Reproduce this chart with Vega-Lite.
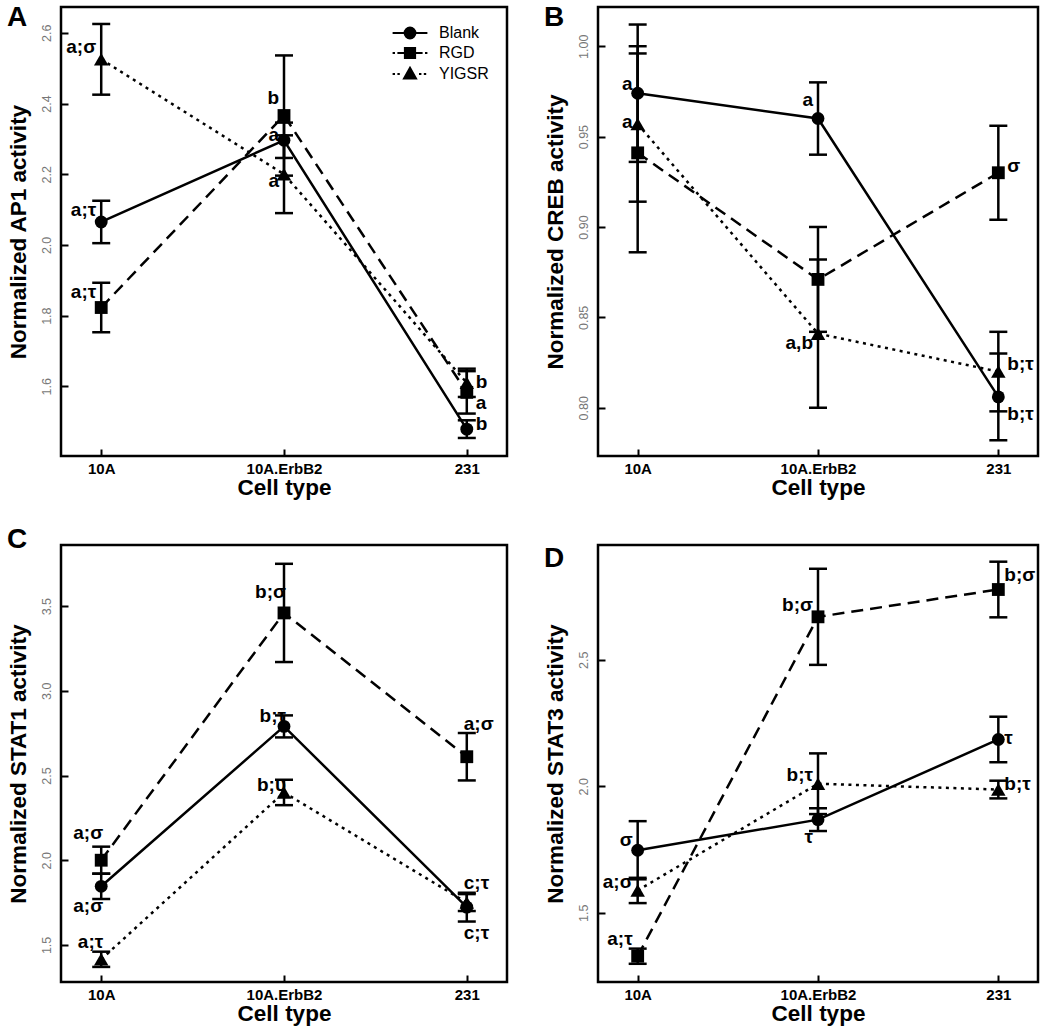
{
  "$schema": "https://vega.github.io/schema/vega-lite/v6.json",
  "background": "white",
  "padding": {"left": 5, "top": 2, "right": 5, "bottom": 0},
  "config": {
    "font": "Liberation Sans",
    "view": {"stroke": "black", "strokeWidth": 2.5},
    "axis": {"grid": false, "domain": false, "tickColor": "black", "tickWidth": 2, "tickSize": -7, "titleFontWeight": "bold", "titleFontSize": 22.5, "titleColor": "black"},
    "axisX": {"labelFontWeight": "bold", "labelFontSize": 15, "labelColor": "black", "labelAngle": 0, "labelPadding": 12, "titlePadding": 0},
    "axisY": {"labelAngle": -90, "labelColor": "#777", "labelFontSize": 12.5, "labelPadding": 15, "titlePadding": 10},
    "line": {"color": "black", "strokeWidth": 2.5},
    "point": {"filled": true, "color": "black", "opacity": 1},
    "text": {"baseline": "middle", "fontSize": 19, "fontWeight": "bold", "color": "black"}
  },
  "datasets": {
    "pts": [
      {"panel": "A", "cell": "10A", "series": "Blank", "v": 2.065, "e": 0.06},
      {"panel": "A", "cell": "10A.ErbB2", "series": "Blank", "v": 2.296, "e": 0.05},
      {"panel": "A", "cell": "231", "series": "Blank", "v": 1.479, "e": 0.025},
      {"panel": "A", "cell": "10A", "series": "RGD", "v": 1.823, "e": 0.07},
      {"panel": "A", "cell": "10A.ErbB2", "series": "RGD", "v": 2.366, "e": 0.17},
      {"panel": "A", "cell": "231", "series": "RGD", "v": 1.583, "e": 0.06},
      {"panel": "A", "cell": "10A", "series": "YIGSR", "v": 2.525, "e": 0.1},
      {"panel": "A", "cell": "10A.ErbB2", "series": "YIGSR", "v": 2.2, "e": 0.11},
      {"panel": "A", "cell": "231", "series": "YIGSR", "v": 1.61, "e": 0.04},
      {"panel": "B", "cell": "10A", "series": "Blank", "v": 0.974, "e": 0.038},
      {"panel": "B", "cell": "10A.ErbB2", "series": "Blank", "v": 0.96, "e": 0.02},
      {"panel": "B", "cell": "231", "series": "Blank", "v": 0.806, "e": 0.024},
      {"panel": "B", "cell": "10A", "series": "RGD", "v": 0.941, "e": 0.055},
      {"panel": "B", "cell": "10A.ErbB2", "series": "RGD", "v": 0.871, "e": 0.029},
      {"panel": "B", "cell": "231", "series": "RGD", "v": 0.93, "e": 0.026},
      {"panel": "B", "cell": "10A", "series": "YIGSR", "v": 0.957, "e": 0.043},
      {"panel": "B", "cell": "10A.ErbB2", "series": "YIGSR", "v": 0.841, "e": 0.041},
      {"panel": "B", "cell": "231", "series": "YIGSR", "v": 0.82, "e": 0.022},
      {"panel": "C", "cell": "10A", "series": "Blank", "v": 1.846, "e": 0.075},
      {"panel": "C", "cell": "10A.ErbB2", "series": "Blank", "v": 2.79, "e": 0.065},
      {"panel": "C", "cell": "231", "series": "Blank", "v": 1.723, "e": 0.085},
      {"panel": "C", "cell": "10A", "series": "RGD", "v": 2.0, "e": 0.08},
      {"panel": "C", "cell": "10A.ErbB2", "series": "RGD", "v": 3.46, "e": 0.29},
      {"panel": "C", "cell": "231", "series": "RGD", "v": 2.611, "e": 0.14},
      {"panel": "C", "cell": "10A", "series": "YIGSR", "v": 1.415, "e": 0.045},
      {"panel": "C", "cell": "10A.ErbB2", "series": "YIGSR", "v": 2.4, "e": 0.075},
      {"panel": "C", "cell": "231", "series": "YIGSR", "v": 1.75, "e": 0.05},
      {"panel": "D", "cell": "10A", "series": "Blank", "v": 1.747, "e": 0.115},
      {"panel": "D", "cell": "10A.ErbB2", "series": "Blank", "v": 1.868, "e": 0.045},
      {"panel": "D", "cell": "231", "series": "Blank", "v": 2.185, "e": 0.09},
      {"panel": "D", "cell": "10A", "series": "RGD", "v": 1.328, "e": 0.03},
      {"panel": "D", "cell": "10A.ErbB2", "series": "RGD", "v": 2.67, "e": 0.19},
      {"panel": "D", "cell": "231", "series": "RGD", "v": 2.778, "e": 0.11},
      {"panel": "D", "cell": "10A", "series": "YIGSR", "v": 1.588, "e": 0.05},
      {"panel": "D", "cell": "10A.ErbB2", "series": "YIGSR", "v": 2.01, "e": 0.12},
      {"panel": "D", "cell": "231", "series": "YIGSR", "v": 1.987, "e": 0.035}
    ],
    "labels": [
      {"panel": "A", "cell": "10A", "ly": 2.56, "t": "a;σ", "side": "L"},
      {"panel": "A", "cell": "10A", "ly": 2.1, "t": "a;τ", "side": "L"},
      {"panel": "A", "cell": "10A", "ly": 1.868, "t": "a;τ", "side": "L"},
      {"panel": "A", "cell": "10A.ErbB2", "ly": 2.417, "t": "b", "side": "L"},
      {"panel": "A", "cell": "10A.ErbB2", "ly": 2.31, "t": "a", "side": "L"},
      {"panel": "A", "cell": "10A.ErbB2", "ly": 2.18, "t": "a", "side": "L"},
      {"panel": "A", "cell": "231", "ly": 1.612, "t": "b", "side": "R"},
      {"panel": "A", "cell": "231", "ly": 1.554, "t": "a", "side": "R"},
      {"panel": "A", "cell": "231", "ly": 1.494, "t": "b", "side": "R"},
      {"panel": "B", "cell": "10A", "ly": 0.979, "t": "a", "side": "L"},
      {"panel": "B", "cell": "10A", "ly": 0.958, "t": "a", "side": "L"},
      {"panel": "B", "cell": "10A.ErbB2", "ly": 0.97, "t": "a", "side": "L"},
      {"panel": "B", "cell": "10A.ErbB2", "ly": 0.836, "t": "a,b", "side": "L"},
      {"panel": "B", "cell": "231", "ly": 0.934, "t": "σ", "side": "R"},
      {"panel": "B", "cell": "231", "ly": 0.8244, "t": "b;τ", "side": "R"},
      {"panel": "B", "cell": "231", "ly": 0.7967, "t": "b;τ", "side": "R"},
      {"panel": "C", "cell": "10A", "ly": 2.162, "t": "a;σ", "side": "L"},
      {"panel": "C", "cell": "10A", "ly": 1.727, "t": "a;σ", "side": "L"},
      {"panel": "C", "cell": "10A", "ly": 1.52, "t": "a;τ", "side": "L"},
      {"panel": "C", "cell": "10A.ErbB2", "ly": 3.581, "t": "b;σ", "side": "L"},
      {"panel": "C", "cell": "10A.ErbB2", "ly": 2.854, "t": "b;τ", "side": "L"},
      {"panel": "C", "cell": "10A.ErbB2", "ly": 2.443, "t": "b;υ", "side": "L"},
      {"panel": "C", "cell": "231", "ly": 2.804, "t": "a;σ", "side": "N"},
      {"panel": "C", "cell": "231", "ly": 1.866, "t": "c;τ", "side": "N"},
      {"panel": "C", "cell": "231", "ly": 1.569, "t": "c;τ", "side": "N"},
      {"panel": "D", "cell": "10A", "ly": 1.786, "t": "σ", "side": "L"},
      {"panel": "D", "cell": "10A", "ly": 1.621, "t": "a;σ", "side": "L"},
      {"panel": "D", "cell": "10A", "ly": 1.397, "t": "a;τ", "side": "L"},
      {"panel": "D", "cell": "10A.ErbB2", "ly": 2.716, "t": "b;σ", "side": "L"},
      {"panel": "D", "cell": "10A.ErbB2", "ly": 2.044, "t": "b;τ", "side": "L"},
      {"panel": "D", "cell": "10A.ErbB2", "ly": 1.8, "t": "τ", "side": "L"},
      {"panel": "D", "cell": "231", "ly": 2.835, "t": "b;σ", "side": "R"},
      {"panel": "D", "cell": "231", "ly": 2.189, "t": "τ", "side": "R"},
      {"panel": "D", "cell": "231", "ly": 2.01, "t": "b;τ", "side": "R"}
    ]
  },
  "columns": 2,
  "spacing": {"row": 24, "column": 33},
  "resolve": {"scale": {"color": "independent"}, "legend": {"color": "independent"}},
  "concat": [
    {
      "title": {"text": "A", "anchor": "start", "frame": "bounds", "fontSize": 28, "fontWeight": "bold", "color": "black", "offset": 0, "dy": 25},
      "width": 446, "height": 449,
      "encoding": {
        "x": {"field": "cell", "type": "ordinal", "sort": ["10A", "10A.ErbB2", "231"], "scale": {"type": "point", "padding": 0.22}, "axis": {"title": "Cell type"}},
        "y": {"field": "v", "type": "quantitative", "scale": {"domain": [1.403, 2.673], "nice": false, "zero": false}, "axis": {"title": "Normalized AP1 activity", "values": [1.6, 1.8, 2.0, 2.2, 2.4, 2.6], "format": ".1f"}}
      },
      "layer": [
        {"data": {"name": "pts"}, "transform": [{"filter": "datum.panel == 'A'"}], "mark": {"type": "errorbar", "color": "black", "rule": {"color": "black", "opacity": 1, "strokeWidth": 2.5}, "ticks": {"size": 18, "thickness": 2.5, "color": "black", "opacity": 1}}, "encoding": {"yError": {"field": "e"}}},
        {"data": {"name": "pts"}, "transform": [{"filter": "datum.panel == 'A' && datum.series == 'Blank'"}], "mark": {"type": "line"}, "encoding": {}},
        {"data": {"name": "pts"}, "transform": [{"filter": "datum.panel == 'A' && datum.series == 'RGD'"}], "mark": {"type": "line", "strokeDash": [12, 7]}, "encoding": {}},
        {"data": {"name": "pts"}, "transform": [{"filter": "datum.panel == 'A' && datum.series == 'YIGSR'"}], "mark": {"type": "line", "strokeDash": [3, 4.5]}, "encoding": {}},
        {"data": {"name": "pts"}, "transform": [{"filter": "datum.panel == 'A' && datum.series == 'Blank'"}], "mark": {"type": "point", "shape": "circle", "size": 165}, "encoding": {}},
        {"data": {"name": "pts"}, "transform": [{"filter": "datum.panel == 'A' && datum.series == 'RGD'"}], "mark": {"type": "point", "shape": "square", "size": 165}, "encoding": {}},
        {"data": {"name": "pts"}, "transform": [{"filter": "datum.panel == 'A' && datum.series == 'YIGSR'"}], "mark": {"type": "point", "shape": "triangle-up", "size": 210}, "encoding": {}},
        {"data": {"name": "pts"}, "transform": [{"filter": "false"}], "mark": {"type": "point", "size": 144},
         "encoding": {"color": {"field": "series", "type": "nominal", "scale": {"domain": ["Blank", "RGD", "YIGSR"], "range": ["black", "black", "black"]},
           "legend": {"title": null, "orient": "top-right", "offset": 18, "padding": 0, "labelFontSize": 16, "labelColor": "black", "labelOffset": 21, "symbolSize": 144, "rowPadding": 0,
             "encode": {"symbols": {"update": {
               "shape": {"signal": "datum.value === 'Blank' ? 'M-2.9,0H2.9M0.9,0A0.9,0.9,0,1,1,-0.9,0A0.9,0.9,0,1,1,0.9,0Z' : datum.value === 'RGD' ? 'M-2.9,0H-2.5M-2.1,0H-1M1,0H2.1M2.5,0H2.9M-0.85,-0.85H0.85V0.85H-0.85Z' : 'M-2.9,0H-2.5M-2.1,0H-1.7M1.5,0H1.9M2.3,0H2.7M0,-1.05L1,0.75H-1Z'"},
               "fill": {"value": "black"}, "stroke": {"value": "black"}, "strokeWidth": {"value": 2}, "opacity": {"value": 1}}}}}}}},
        {"data": {"name": "labels"}, "transform": [{"filter": "datum.panel == 'A' && datum.side == 'L'"}], "mark": {"type": "text", "align": "right", "dx": -5},
         "encoding": {"y": {"field": "ly", "type": "quantitative", "scale": {"domain": [1.403, 2.673], "nice": false, "zero": false}, "axis": {"title": "Normalized AP1 activity", "values": [1.6, 1.8, 2.0, 2.2, 2.4, 2.6], "format": ".1f"}}, "text": {"field": "t"}}},
        {"data": {"name": "labels"}, "transform": [{"filter": "datum.panel == 'A' && datum.side == 'R'"}], "mark": {"type": "text", "align": "left", "dx": 9},
         "encoding": {"y": {"field": "ly", "type": "quantitative", "scale": {"domain": [1.403, 2.673], "nice": false, "zero": false}, "axis": {"title": "Normalized AP1 activity", "values": [1.6, 1.8, 2.0, 2.2, 2.4, 2.6], "format": ".1f"}}, "text": {"field": "t"}}}
      ]
    },
    {
      "title": {"text": "B", "anchor": "start", "frame": "bounds", "fontSize": 28, "fontWeight": "bold", "color": "black", "offset": 0, "dy": 25},
      "width": 440, "height": 449,
      "encoding": {
        "x": {"field": "cell", "type": "ordinal", "sort": ["10A", "10A.ErbB2", "231"], "scale": {"type": "point", "padding": 0.22}, "axis": {"title": "Cell type"}},
        "y": {"field": "v", "type": "quantitative", "scale": {"domain": [0.7733, 1.0217], "nice": false, "zero": false}, "axis": {"title": "Normalized CREB activity", "values": [0.8, 0.85, 0.9, 0.95, 1.0], "format": ".2f"}}
      },
      "layer": [
        {"data": {"name": "pts"}, "transform": [{"filter": "datum.panel == 'B'"}], "mark": {"type": "errorbar", "color": "black", "rule": {"color": "black", "opacity": 1, "strokeWidth": 2.5}, "ticks": {"size": 18, "thickness": 2.5, "color": "black", "opacity": 1}}, "encoding": {"yError": {"field": "e"}}},
        {"data": {"name": "pts"}, "transform": [{"filter": "datum.panel == 'B' && datum.series == 'Blank'"}], "mark": {"type": "line"}, "encoding": {}},
        {"data": {"name": "pts"}, "transform": [{"filter": "datum.panel == 'B' && datum.series == 'RGD'"}], "mark": {"type": "line", "strokeDash": [12, 7]}, "encoding": {}},
        {"data": {"name": "pts"}, "transform": [{"filter": "datum.panel == 'B' && datum.series == 'YIGSR'"}], "mark": {"type": "line", "strokeDash": [3, 4.5]}, "encoding": {}},
        {"data": {"name": "pts"}, "transform": [{"filter": "datum.panel == 'B' && datum.series == 'Blank'"}], "mark": {"type": "point", "shape": "circle", "size": 165}, "encoding": {}},
        {"data": {"name": "pts"}, "transform": [{"filter": "datum.panel == 'B' && datum.series == 'RGD'"}], "mark": {"type": "point", "shape": "square", "size": 165}, "encoding": {}},
        {"data": {"name": "pts"}, "transform": [{"filter": "datum.panel == 'B' && datum.series == 'YIGSR'"}], "mark": {"type": "point", "shape": "triangle-up", "size": 210}, "encoding": {}},
        {"data": {"name": "labels"}, "transform": [{"filter": "datum.panel == 'B' && datum.side == 'L'"}], "mark": {"type": "text", "align": "right", "dx": -5},
         "encoding": {"y": {"field": "ly", "type": "quantitative", "scale": {"domain": [0.7733, 1.0217], "nice": false, "zero": false}, "axis": {"title": "Normalized CREB activity", "values": [0.8, 0.85, 0.9, 0.95, 1.0], "format": ".2f"}}, "text": {"field": "t"}}},
        {"data": {"name": "labels"}, "transform": [{"filter": "datum.panel == 'B' && datum.side == 'R'"}], "mark": {"type": "text", "align": "left", "dx": 9},
         "encoding": {"y": {"field": "ly", "type": "quantitative", "scale": {"domain": [0.7733, 1.0217], "nice": false, "zero": false}, "axis": {"title": "Normalized CREB activity", "values": [0.8, 0.85, 0.9, 0.95, 1.0], "format": ".2f"}}, "text": {"field": "t"}}}
      ]
    },
    {
      "title": {"text": "C", "anchor": "start", "frame": "bounds", "fontSize": 28, "fontWeight": "bold", "color": "black", "offset": 0, "dy": 9},
      "width": 446, "height": 437,
      "encoding": {
        "x": {"field": "cell", "type": "ordinal", "sort": ["10A", "10A.ErbB2", "231"], "scale": {"type": "point", "padding": 0.22}, "axis": {"title": "Cell type"}},
        "y": {"field": "v", "type": "quantitative", "scale": {"domain": [1.281, 3.861], "nice": false, "zero": false}, "axis": {"title": "Normalized STAT1 activity", "values": [1.5, 2.0, 2.5, 3.0, 3.5], "format": ".1f"}}
      },
      "layer": [
        {"data": {"name": "pts"}, "transform": [{"filter": "datum.panel == 'C'"}], "mark": {"type": "errorbar", "color": "black", "rule": {"color": "black", "opacity": 1, "strokeWidth": 2.5}, "ticks": {"size": 18, "thickness": 2.5, "color": "black", "opacity": 1}}, "encoding": {"yError": {"field": "e"}}},
        {"data": {"name": "pts"}, "transform": [{"filter": "datum.panel == 'C' && datum.series == 'Blank'"}], "mark": {"type": "line"}, "encoding": {}},
        {"data": {"name": "pts"}, "transform": [{"filter": "datum.panel == 'C' && datum.series == 'RGD'"}], "mark": {"type": "line", "strokeDash": [12, 7]}, "encoding": {}},
        {"data": {"name": "pts"}, "transform": [{"filter": "datum.panel == 'C' && datum.series == 'YIGSR'"}], "mark": {"type": "line", "strokeDash": [3, 4.5]}, "encoding": {}},
        {"data": {"name": "pts"}, "transform": [{"filter": "datum.panel == 'C' && datum.series == 'Blank'"}], "mark": {"type": "point", "shape": "circle", "size": 165}, "encoding": {}},
        {"data": {"name": "pts"}, "transform": [{"filter": "datum.panel == 'C' && datum.series == 'RGD'"}], "mark": {"type": "point", "shape": "square", "size": 165}, "encoding": {}},
        {"data": {"name": "pts"}, "transform": [{"filter": "datum.panel == 'C' && datum.series == 'YIGSR'"}], "mark": {"type": "point", "shape": "triangle-up", "size": 210}, "encoding": {}},
        {"data": {"name": "labels"}, "transform": [{"filter": "datum.panel == 'C' && datum.side == 'L'"}], "mark": {"type": "text", "align": "right", "dx": 2},
         "encoding": {"y": {"field": "ly", "type": "quantitative", "scale": {"domain": [1.281, 3.861], "nice": false, "zero": false}, "axis": {"title": "Normalized STAT1 activity", "values": [1.5, 2.0, 2.5, 3.0, 3.5], "format": ".1f"}}, "text": {"field": "t"}}},
        {"data": {"name": "labels"}, "transform": [{"filter": "datum.panel == 'C' && datum.side == 'N'"}], "mark": {"type": "text", "align": "left", "dx": -3},
         "encoding": {"y": {"field": "ly", "type": "quantitative", "scale": {"domain": [1.281, 3.861], "nice": false, "zero": false}, "axis": {"title": "Normalized STAT1 activity", "values": [1.5, 2.0, 2.5, 3.0, 3.5], "format": ".1f"}}, "text": {"field": "t"}}}
      ]
    },
    {
      "title": {"text": "D", "anchor": "start", "frame": "bounds", "fontSize": 28, "fontWeight": "bold", "color": "black", "offset": 0, "dy": 28},
      "width": 440, "height": 437,
      "encoding": {
        "x": {"field": "cell", "type": "ordinal", "sort": ["10A", "10A.ErbB2", "231"], "scale": {"type": "point", "padding": 0.22}, "axis": {"title": "Cell type"}},
        "y": {"field": "v", "type": "quantitative", "scale": {"domain": [1.226, 2.954], "nice": false, "zero": false}, "axis": {"title": "Normalized STAT3 activity", "values": [1.5, 2.0, 2.5], "format": ".1f"}}
      },
      "layer": [
        {"data": {"name": "pts"}, "transform": [{"filter": "datum.panel == 'D'"}], "mark": {"type": "errorbar", "color": "black", "rule": {"color": "black", "opacity": 1, "strokeWidth": 2.5}, "ticks": {"size": 18, "thickness": 2.5, "color": "black", "opacity": 1}}, "encoding": {"yError": {"field": "e"}}},
        {"data": {"name": "pts"}, "transform": [{"filter": "datum.panel == 'D' && datum.series == 'Blank'"}], "mark": {"type": "line"}, "encoding": {}},
        {"data": {"name": "pts"}, "transform": [{"filter": "datum.panel == 'D' && datum.series == 'RGD'"}], "mark": {"type": "line", "strokeDash": [12, 7]}, "encoding": {}},
        {"data": {"name": "pts"}, "transform": [{"filter": "datum.panel == 'D' && datum.series == 'YIGSR'"}], "mark": {"type": "line", "strokeDash": [3, 4.5]}, "encoding": {}},
        {"data": {"name": "pts"}, "transform": [{"filter": "datum.panel == 'D' && datum.series == 'Blank'"}], "mark": {"type": "point", "shape": "circle", "size": 165}, "encoding": {}},
        {"data": {"name": "pts"}, "transform": [{"filter": "datum.panel == 'D' && datum.series == 'RGD'"}], "mark": {"type": "point", "shape": "square", "size": 165}, "encoding": {}},
        {"data": {"name": "pts"}, "transform": [{"filter": "datum.panel == 'D' && datum.series == 'YIGSR'"}], "mark": {"type": "point", "shape": "triangle-up", "size": 210}, "encoding": {}},
        {"data": {"name": "labels"}, "transform": [{"filter": "datum.panel == 'D' && datum.side == 'L'"}], "mark": {"type": "text", "align": "right", "dx": -5},
         "encoding": {"y": {"field": "ly", "type": "quantitative", "scale": {"domain": [1.226, 2.954], "nice": false, "zero": false}, "axis": {"title": "Normalized STAT3 activity", "values": [1.5, 2.0, 2.5], "format": ".1f"}}, "text": {"field": "t"}}},
        {"data": {"name": "labels"}, "transform": [{"filter": "datum.panel == 'D' && datum.side == 'R'"}], "mark": {"type": "text", "align": "left", "dx": 6},
         "encoding": {"y": {"field": "ly", "type": "quantitative", "scale": {"domain": [1.226, 2.954], "nice": false, "zero": false}, "axis": {"title": "Normalized STAT3 activity", "values": [1.5, 2.0, 2.5], "format": ".1f"}}, "text": {"field": "t"}}}
      ]
    }
  ]
}
